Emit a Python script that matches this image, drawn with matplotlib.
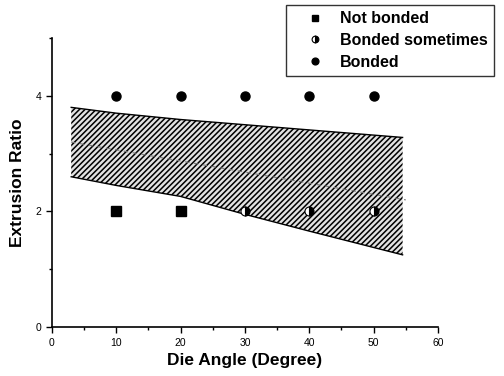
import matplotlib
matplotlib.use("Agg")
import matplotlib.pyplot as plt
from matplotlib.ticker import MultipleLocator
import numpy as np

plt.rcParams['font.family'] = ['Liberation Sans', 'DejaVu Sans']
plt.rcParams['hatch.linewidth'] = 1.1
plt.rcParams['hatch.color'] = 'black'

# Data
not_bonded_x = [10, 20]
not_bonded_y = [2, 2]
sometimes_x = [30, 40, 50]
sometimes_y = [2, 2, 2]
bonded_x = [10, 20, 30, 40, 50]
bonded_y = [4, 4, 4, 4, 4]

band_x = [3, 10, 20, 30, 40, 54.5]
band_upper = [3.80, 3.70, 3.59, 3.50, 3.41, 3.28]
band_lower = [2.60, 2.45, 2.26, 1.95, 1.66, 1.25]

mid_x = [3, 55]
mid_y = [3.2, 2.2]

fig = plt.figure(figsize=(5.04, 3.76), dpi=100)
ax = fig.add_axes([0.103, 0.130, 0.766, 0.769])

ax.fill_between(band_x, band_lower, band_upper, facecolor='#e2e2e2',
                edgecolor='black', hatch='//////', linewidth=0)
ax.plot(band_x, band_upper, color='black', lw=1.0)
ax.plot(band_x, band_lower, color='black', lw=1.0)
ax.plot(mid_x, mid_y, color='#777777', lw=0.8, ls=(0, (4, 4)))

ax.plot(not_bonded_x, not_bonded_y, ls='none', marker='s', ms=6.5,
        color='black', label='Not bonded', zorder=5)
ax.plot(sometimes_x, sometimes_y, ls='none', marker='o', ms=6.5,
        fillstyle='right', markerfacecolor='black', markerfacecoloralt='white',
        markeredgecolor='black', markeredgewidth=0.8, label='Bonded sometimes', zorder=5)
ax.plot(bonded_x, bonded_y, ls='none', marker='o', ms=6.5,
        color='black', label='Bonded', zorder=5)

ax.set_xlim(0, 60)
ax.set_ylim(0, 5)
ax.xaxis.set_major_locator(MultipleLocator(10))
ax.xaxis.set_minor_locator(MultipleLocator(5))
ax.yaxis.set_major_locator(MultipleLocator(2))
ax.yaxis.set_minor_locator(MultipleLocator(1))
ax.spines['top'].set_visible(False)
ax.spines['right'].set_visible(False)
ax.spines['left'].set_linewidth(1.2)
ax.spines['bottom'].set_linewidth(1.2)
ax.tick_params(which='major', direction='out', length=4, width=1, labelsize=7.5)
ax.tick_params(which='minor', direction='out', length=2.5, width=1)

ax.set_xlabel('Die Angle (Degree)', fontsize=12.5, fontweight='bold', labelpad=4)
ax.set_ylabel('Extrusion Ratio', fontsize=12.5, fontweight='bold', labelpad=8)

leg = fig.legend(loc='upper left', bbox_to_anchor=(0.567, 0.987), frameon=True,
                 fancybox=False, prop={'weight': 'bold', 'size': 11.5},
                 borderpad=0.4, labelspacing=0.42, handletextpad=0.2,
                 handlelength=2.8, borderaxespad=0, markerscale=0.75)
leg.get_frame().set_edgecolor('black')
leg.get_frame().set_linewidth(1.0)

fig.savefig('out.png', dpi=100)
